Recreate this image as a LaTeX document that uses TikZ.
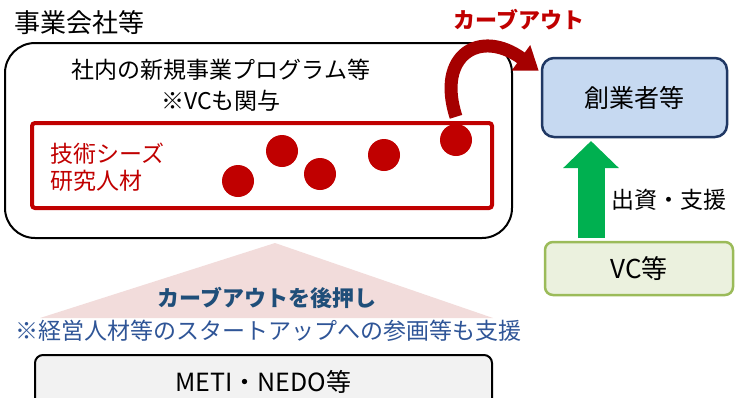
\documentclass[tikz,border=0pt]{standalone}
\usepackage{fontspec}
\setmainfont{Noto Sans CJK JP}
\usepackage{tikz}
\usetikzlibrary{arrows.meta, positioning}

\definecolor{cred}{HTML}{C00000}
\definecolor{cdkred}{HTML}{A50000}
\definecolor{cnavy}{HTML}{1F4E79}
\definecolor{cnote}{HTML}{2F5597}
\definecolor{cfndfill}{HTML}{C6D9F1}
\definecolor{cfnddraw}{HTML}{203864}
\definecolor{cgreen}{HTML}{00B050}
\definecolor{cvcfill}{HTML}{EBF1DE}
\definecolor{cvcdraw}{HTML}{9BBB59}
\definecolor{cpink}{HTML}{F2DCDB}
\definecolor{cgray}{HTML}{F2F2F2}

\newcommand{\fs}[2][1.2]{\fontsize{#2}{#1\dimexpr#2pt\relax}\selectfont}

\begin{document}
\begin{tikzpicture}[x=1pt, y=-1pt,
  frame/.style={draw, rounded corners=30pt, line width=2pt},
  seeds/.style={draw=cred, rounded corners=3pt, line width=4pt},
  dot/.style={circle, fill=cred, minimum size=32pt, inner sep=0pt},
  party/.style={rounded corners=12pt, line width=2.5pt, inner sep=0pt},
  lbl/.style={inner sep=0pt, align=center},
]
\useasboundingbox (0,0) rectangle (735,397);
\clip (0,0) rectangle (735,397);

% support wedge
\fill[cpink] (275,243) -- (40,318) -- (493,318) -- cycle;

% company side
\node[frame, minimum width=507pt, minimum height=195pt] (corp) at (258.5,140.5) {};
\node[lbl, anchor=west, font=\fs{26}] (corptitle) at (14,23) {事業会社等};
\node[lbl, font=\fontsize{23}{31}\selectfont] (prog) at (221,85)
  {社内の新規事業プログラム等\\※VCも関与};

\node[seeds, minimum width=460pt, minimum height=85pt] (seed) at (262,165.5) {};
\node[lbl, anchor=west, align=left, text=cred, font=\fontsize{23}{27}\selectfont] (seedtxt) at (50,167)
  {技術シーズ\\研究人材};

\foreach \x/\y [count=\i] in {238/181, 282/151, 320/174, 384/155, 456/140}
  \node[dot] (d\i) at (\x,\y) {};

% founders
\node[party, draw=cfnddraw, fill=cfndfill, minimum width=185pt, minimum height=79pt,
      font=\fs{25}] (fnd) at (634.5,97.5) {創業者等};

% carve-out arrow
\draw[cdkred, line width=13pt, -{Triangle[length=22pt, width=30pt]}]
  ([yshift=7pt]d5.north) .. controls (436,55) and (480,28) .. ([shift={(-2pt,-14pt)}]fnd.north west);
\node[lbl, text=cred, font=\fs{22}\bfseries] (cotxt) at (519,20) {カーブアウト};

% VC
\node[party, rounded corners=8pt, draw=cvcdraw, fill=cvcfill, minimum width=188pt,
      minimum height=53pt, font=\fs{26}] (vc) at (639,268.5) {VC等};
\coordinate (gbot) at (591,238);
\coordinate (gtop) at (591,141);
\draw[cgreen, line width=27pt, -{Triangle[length=27pt, width=54pt]}] (gbot) -- (gtop);
\node[lbl, font=\fs{23}] (fund) at (669,200) {出資・支援};

% support
\node[lbl, text=cnavy, font=\fs{22}\bfseries] (push) at (267,298) {カーブアウトを後押し};
\node[lbl, text=cnote, font=\fs{23}] (note) at (268,331) {※経営人材等のスタートアップへの参画等も支援};
\node[party, rounded corners=8pt, draw=black, line width=2pt, fill=cgray,
      minimum width=457pt, minimum height=54pt, font=\fs{25}] (meti) at (263.5,382) {METI・NEDO等};
\end{tikzpicture}
\end{document}
